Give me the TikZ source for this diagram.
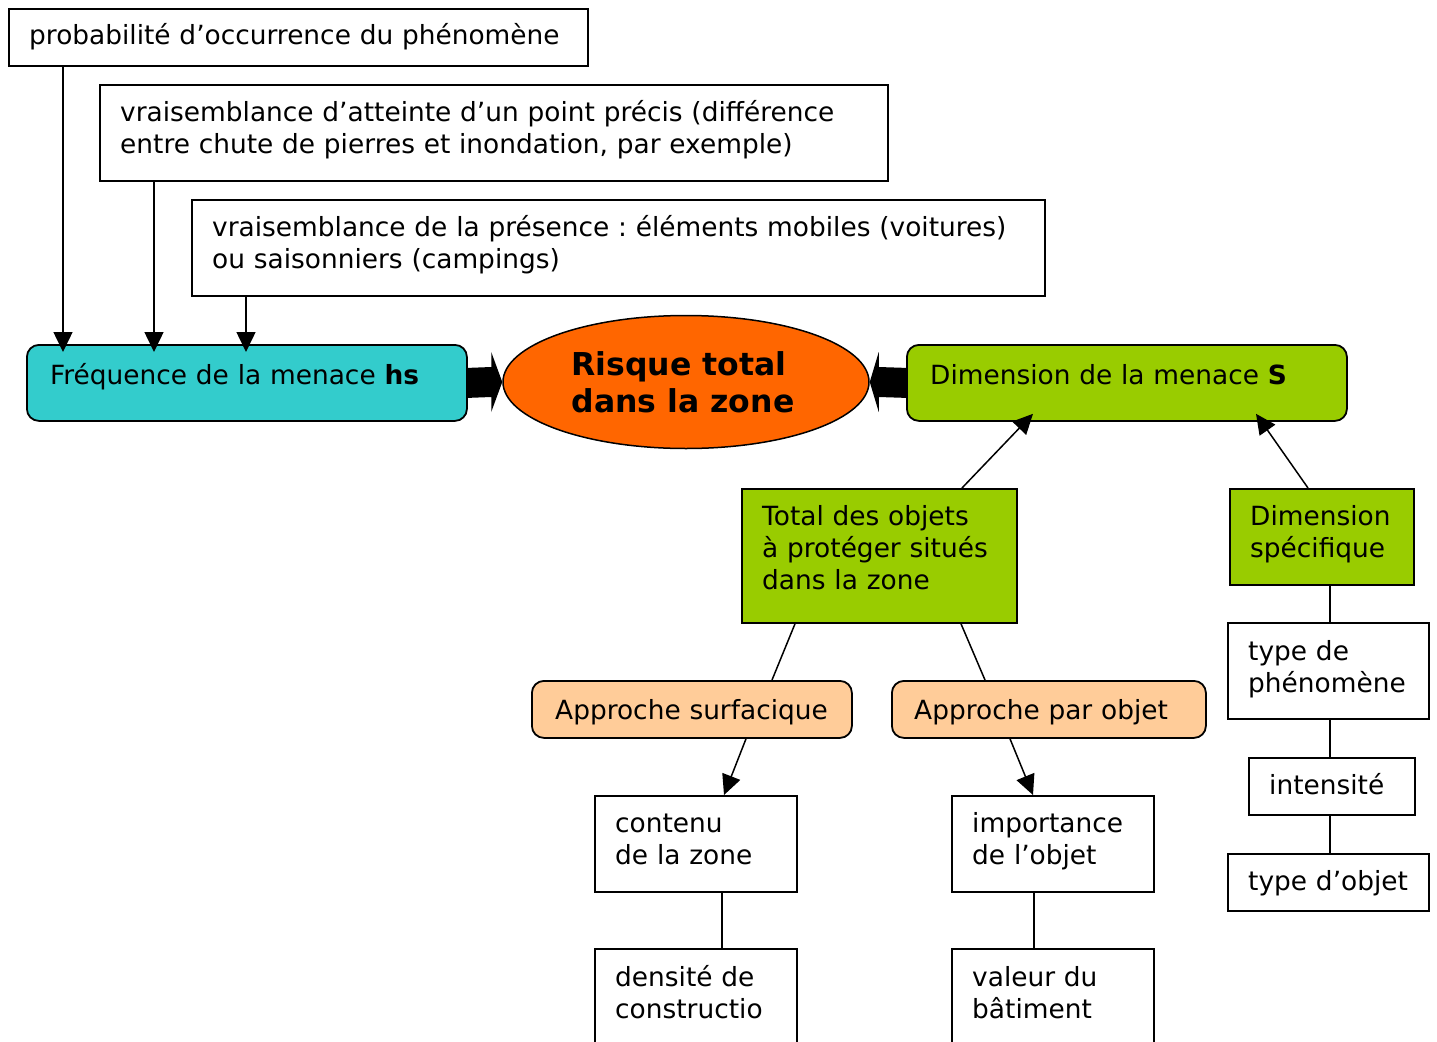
\documentclass[tikz,border=0pt]{standalone}
\usepackage{fontspec}
\setmainfont{DejaVu Sans}
\usetikzlibrary{calc,arrows.meta,shapes.geometric}
\frenchspacing

\definecolor{cyanbox}{HTML}{33CCCC}
\definecolor{greenbox}{HTML}{99CC00}
\definecolor{orangeell}{HTML}{FF6600}
\definecolor{peachbox}{HTML}{FFCC99}

\tikzset{
  frame/.style={draw, line width=1.8pt, inner sep=0pt, anchor=north west},
  plainbox/.style={frame, fill=white},
  cyanframe/.style={frame, fill=cyanbox, rounded corners=12pt},
  greenround/.style={frame, fill=greenbox, rounded corners=12pt},
  greensquare/.style={frame, fill=greenbox},
  peachframe/.style={frame, fill=peachbox, rounded corners=12pt},
  boxtext/.style={anchor=base west, inner sep=0pt, align=left,
    font=\fontsize{26.4}{32.3}\selectfont},
  link/.style={draw, line width=1.5pt},
  arr/.style={link, -{Triangle[length=20pt, width=19pt]}},
  blockarrow/.style={fill=black},
}

% box: name, style, x1, y1, x2, y2, text indent, baseline offset, text
\newcommand\diagbox[9]{%
  \node[#2, minimum width={#5-#3}, minimum height={#6-#4}] (#1) at (#3,#4) {};
  \node[boxtext, text width={#5-#3}] (#1-txt) at ($(#1.north west)+(#7,#8)$) {#9};
}

\begin{document}
\begin{tikzpicture}[x=1pt, y=-1pt]
  \useasboundingbox[fill=white] (0,0) rectangle (1437,1041);

  % inputs of the frequency
  \diagbox{prob}{plainbox}{8}{8}{587}{65}{21}{37}{probabilité d’occurrence du phénomène}
  \diagbox{vrai}{plainbox}{99}{84}{887}{180}{21}{37}{vraisemblance d’atteinte d’un point précis (différence\\entre chute de pierres et inondation, par exemple)}
  \diagbox{pres}{plainbox}{191}{199}{1044}{295}{21}{37}{vraisemblance de la présence : éléments mobiles (voitures)\\ou saisonniers (campings)}

  % main row
  \diagbox{freq}{cyanframe}{26}{344}{466}{420}{24}{40}{Fréquence de la menace \textbf{hs}}
  \diagbox{dim}{greenround}{906}{344}{1346}{420}{24}{40}{Dimension de la menace \textbf{S}}
  \node[ellipse, draw, line width=1.5pt, fill=orangeell, minimum width=366, minimum height=133,
        inner sep=0pt] (risk) at (686,382) {};
  \node[align=left, inner sep=0pt, font=\bfseries\fontsize{31.5}{37}\selectfont]
        (risk-txt) at ($(risk.center)+(-3,0)$) {Risque total\\dans la zone};

  % second level
  \diagbox{total}{greensquare}{741}{488}{1016}{622}{21}{37}{Total des objets\\à protéger situés\\dans la zone}
  \diagbox{spec}{greensquare}{1229}{488}{1413}{584}{21}{37}{Dimension\\spécifique}

  % approaches
  \diagbox{surf}{peachframe}{531}{680}{851}{737}{24}{39}{Approche surfacique}
  \diagbox{objet}{peachframe}{891}{680}{1205}{737}{23}{39}{Approche par objet}

  % leaves
  \diagbox{cont}{plainbox}{594}{795}{796}{891}{21}{37}{contenu\\de la zone}
  \diagbox{imp}{plainbox}{951}{795}{1153}{891}{21}{37}{importance\\de l’objet}
  \diagbox{dens}{plainbox}{594}{948}{796}{1070}{21}{38}{densité de\\constructio}
  \diagbox{val}{plainbox}{951}{948}{1153}{1070}{21}{38}{valeur du\\bâtiment}

  % specific dimension chain
  \diagbox{phen}{plainbox}{1227}{622}{1428}{718}{21}{38}{type de\\phénomène}
  \diagbox{int}{plainbox}{1248}{757}{1414}{814}{21}{37}{intensité}
  \diagbox{tobj}{plainbox}{1227}{853}{1428}{910}{21}{37}{type d’objet}

  % arrows into the frequency box
  \draw[arr, shorten >=-8pt] ($(prob.south west)+(55,0)$) coordinate (p1) -- (p1 |- freq.north);
  \draw[arr, shorten >=-8pt] ($(vrai.south west)+(55,0)$) coordinate (p2) -- (p2 |- freq.north);
  \draw[arr, shorten >=-8pt] ($(pres.south west)+(55,0)$) coordinate (p3) -- (p3 |- freq.north);

  % block arrows into the total risk
  \fill[blockarrow] ($(freq.east)+(0,-15)$) -- ($(risk.west)+(-11,-15)$) -- ($(risk.west)+(-11,-30)$)
    -- (risk.west) -- ($(risk.west)+(-11,30)$) -- ($(risk.west)+(-11,15)$) -- ($(freq.east)+(0,15)$) -- cycle;
  \fill[blockarrow] ($(dim.west)+(0,-15)$) -- ($(risk.east)+(9,-15)$) -- ($(risk.east)+(9,-30)$)
    -- (risk.east) -- ($(risk.east)+(9,30)$) -- ($(risk.east)+(9,15)$) -- ($(dim.west)+(0,15)$) -- cycle;

  % arrows into the dimension box
  \draw[arr] ($(total.north west)+(221,0)$) -- ($(dim.south west)+(127,-8)$);
  \draw[arr] ($(spec.north west)+(79,0)$) -- ($(dim.south west)+(350,-8)$);

  % approaches
  \draw[link] ($(total.south west)+(54,0)$) -- ($(surf.north west)+(241,0)$);
  \draw[link] ($(total.south west)+(220,0)$) -- ($(objet.north west)+(94,0)$);
  \draw[arr] ($(surf.south west)+(215,0)$) -- ($(cont.north west)+(130,0)$);
  \draw[arr] ($(objet.south west)+(119,0)$) -- ($(imp.north west)+(82,0)$);

  % plain links
  \draw[link] ($(cont.south west)+(128,0)$) coordinate (c1) -- (c1 |- dens.north);
  \draw[link] ($(imp.south west)+(83,0)$) coordinate (c2) -- (c2 |- val.north);
  \draw[link] ($(spec.south west)+(101,0)$) coordinate (c3) -- (c3 |- phen.north);
  \draw[link] (c3 |- phen.south) -- (c3 |- int.north);
  \draw[link] (c3 |- int.south) -- (c3 |- tobj.north);
\end{tikzpicture}
\end{document}
